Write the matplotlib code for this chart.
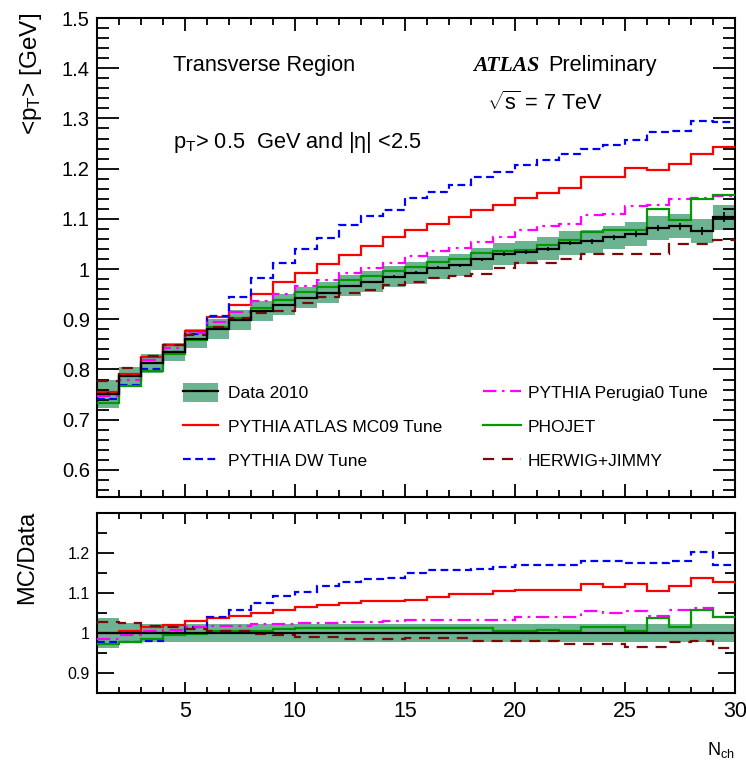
import numpy as np
import matplotlib
matplotlib.use('Agg')
import matplotlib.pyplot as plt
from matplotlib.patches import Patch
from matplotlib.lines import Line2D
from matplotlib.ticker import MultipleLocator, FixedLocator, FuncFormatter

plt.rcParams['font.family'] = ['Liberation Sans', 'DejaVu Sans']
plt.rcParams['mathtext.fontset'] = 'custom'
plt.rcParams['mathtext.rm'] = 'Liberation Sans'
plt.rcParams['mathtext.it'] = 'Liberation Sans:italic'
plt.rcParams['mathtext.default'] = 'regular'

# bin edges in N_ch
nch_edges = list(range(1, 31))

# <pT> per bin, top panel
data_2010 = [0.752, 0.787, 0.812, 0.835, 0.861, 0.881, 0.899, 0.917, 0.929, 0.943,
             0.953, 0.967, 0.975, 0.985, 0.993, 1.003, 1.008, 1.020, 1.030, 1.033,
             1.040, 1.052, 1.055, 1.063, 1.070, 1.081, 1.085, 1.076, 1.103]
data_stat = [0.003, 0.002, 0.002, 0.002, 0.002, 0.002, 0.002, 0.002, 0.002, 0.002,
             0.002, 0.002, 0.002, 0.003, 0.003, 0.003, 0.003, 0.003, 0.004, 0.004,
             0.004, 0.004, 0.005, 0.005, 0.006, 0.006, 0.007, 0.008, 0.010]
data_syst_rel = [0.037, 0.024, 0.023, 0.022, 0.022, 0.022, 0.022, 0.022, 0.022, 0.022,
                 0.022, 0.022, 0.022, 0.022, 0.022, 0.022, 0.022, 0.022, 0.022, 0.022,
                 0.022, 0.022, 0.022, 0.022, 0.022, 0.022, 0.022, 0.022, 0.023]

mc09 = [0.755, 0.790, 0.825, 0.848, 0.877, 0.905, 0.928, 0.951, 0.975, 0.993,
        1.011, 1.027, 1.045, 1.063, 1.077, 1.090, 1.103, 1.117, 1.127, 1.141,
        1.151, 1.161, 1.183, 1.183, 1.201, 1.197, 1.210, 1.230, 1.243]
dw = [0.741, 0.770, 0.800, 0.835, 0.870, 0.907, 0.945, 0.983, 1.012, 1.040,
      1.061, 1.087, 1.105, 1.117, 1.141, 1.153, 1.168, 1.183, 1.193, 1.207,
      1.217, 1.230, 1.240, 1.248, 1.257, 1.273, 1.275, 1.295, 1.292]
perugia0 = [0.747, 0.780, 0.818, 0.842, 0.872, 0.895, 0.915, 0.937, 0.950, 0.966,
            0.978, 0.993, 1.002, 1.013, 1.025, 1.036, 1.041, 1.053, 1.063, 1.077,
            1.085, 1.090, 1.107, 1.110, 1.125, 1.128, 1.140, 1.141, 1.145]
phojet = [0.733, 0.767, 0.797, 0.830, 0.858, 0.884, 0.902, 0.922, 0.938, 0.955,
          0.965, 0.978, 0.987, 0.997, 1.005, 1.015, 1.020, 1.032, 1.035, 1.038,
          1.048, 1.057, 1.073, 1.077, 1.077, 1.120, 1.097, 1.139, 1.147]
herwig = [0.778, 0.803, 0.826, 0.848, 0.868, 0.885, 0.902, 0.913, 0.917, 0.933,
          0.944, 0.952, 0.958, 0.968, 0.975, 0.982, 0.986, 0.990, 1.003, 1.013,
          1.013, 1.021, 1.030, 1.030, 1.030, 1.030, 1.050, 1.050, 1.057]

# MC/Data, bottom panel
r_mc09 = [1.000, 1.005, 1.016, 1.020, 1.030, 1.037, 1.043, 1.050, 1.057, 1.064,
          1.069, 1.075, 1.079, 1.080, 1.083, 1.091, 1.097, 1.097, 1.104, 1.108,
          1.108, 1.108, 1.123, 1.116, 1.123, 1.105, 1.117, 1.138, 1.128]
r_dw = [0.977, 0.978, 0.979, 1.000, 1.016, 1.040, 1.058, 1.074, 1.093, 1.102,
        1.118, 1.128, 1.135, 1.138, 1.150, 1.158, 1.158, 1.160, 1.165, 1.170,
        1.170, 1.170, 1.180, 1.180, 1.175, 1.174, 1.180, 1.203, 1.170]
r_perugia0 = [0.985, 0.995, 1.006, 1.008, 1.014, 1.017, 1.018, 1.022, 1.023, 1.024,
              1.026, 1.027, 1.028, 1.029, 1.032, 1.033, 1.033, 1.033, 1.033, 1.039,
              1.039, 1.039, 1.055, 1.050, 1.056, 1.043, 1.058, 1.063, 1.039]
r_phojet = [0.972, 0.978, 0.984, 0.995, 0.998, 1.004, 1.004, 1.006, 1.010, 1.012,
            1.012, 1.012, 1.012, 1.012, 1.012, 1.012, 1.012, 1.012, 1.006, 1.004,
            1.008, 1.004, 1.016, 1.016, 1.006, 1.037, 1.014, 1.058, 1.040]
r_herwig = [1.028, 1.024, 1.018, 1.016, 1.010, 1.006, 1.004, 0.997, 0.996, 0.991,
            0.990, 0.986, 0.985, 0.985, 0.987, 0.987, 0.987, 0.979, 0.979, 0.979,
            0.979, 0.973, 0.973, 0.973, 0.965, 0.965, 0.977, 0.979, 0.963]

labels = ['Data 2010', 'PYTHIA ATLAS MC09 Tune', 'PYTHIA DW Tune',
          'PYTHIA Perugia0 Tune', 'PHOJET', 'HERWIG+JIMMY']

band_col = '#6cb391'
styles = {
    'mc09': dict(color='#ff0000', linestyle='-', lw=1.6),
    'dw': dict(color='#0000ff', linestyle=(0, (3.5, 2)), lw=1.6),
    'perugia0': dict(color='#ff00ff', linestyle=(0, (6, 2.5, 1.2, 2.5)), lw=1.6),
    'phojet': dict(color='#009900', linestyle='-', lw=1.6),
    'herwig': dict(color='#7a0a0a', linestyle=(0, (5, 3.5)), lw=1.6),
}


def style_axis(ax, ymajor_len, yminor_len, xmajor_len, xminor_len):
    ax.tick_params(which='both', direction='in', top=True, right=True, width=1.3, colors='k')
    ax.tick_params(axis='y', which='major', length=ymajor_len)
    ax.tick_params(axis='y', which='minor', length=yminor_len)
    ax.tick_params(axis='x', which='major', length=xmajor_len)
    ax.tick_params(axis='x', which='minor', length=xminor_len)
    for s in ax.spines.values():
        s.set_linewidth(1.5)
    ax.xaxis.set_major_locator(MultipleLocator(5))
    ax.xaxis.set_minor_locator(MultipleLocator(1))


fig = plt.figure(figsize=(7.46, 7.63), dpi=100)
W, H = 746.0, 763.0
ax1 = fig.add_axes([96.7 / W, 1 - 497 / H, 638.3 / W, 479 / H])
ax2 = fig.add_axes([96.7 / W, 1 - 693 / H, 638.3 / W, 180 / H])

edges = np.array(nch_edges)
centers = (edges[:-1] + edges[1:]) / 2
data = np.array(data_2010)
syst = data * np.array(data_syst_rel)

# top panel
ax1.stairs(data + syst, edges, baseline=data - syst, fill=True, color=band_col, lw=0, zorder=1)
ax1.stairs(mc09, edges, baseline=None, zorder=3, **styles['mc09'])
ax1.stairs(dw, edges, baseline=None, zorder=3, **styles['dw'])
ax1.stairs(perugia0, edges, baseline=None, zorder=3, **styles['perugia0'])
ax1.stairs(phojet, edges, baseline=None, zorder=3, **styles['phojet'])
ax1.stairs(herwig, edges, baseline=None, zorder=3, **styles['herwig'])
ax1.stairs(data, edges, baseline=None, color='k', lw=1.6, zorder=4)
ax1.errorbar(centers, data, yerr=data_stat, fmt='none', ecolor='k', elinewidth=1.2, zorder=4)

ax1.set_xlim(1, 30)
ax1.set_ylim(0.546, 1.5)
style_axis(ax1, 16, 8.5, 9.5, 5)
ax1.yaxis.set_major_locator(MultipleLocator(0.1))
ax1.yaxis.set_minor_locator(MultipleLocator(0.02))
ax1.yaxis.set_major_formatter(FuncFormatter(lambda v, p: '%g' % round(v, 2)))
ax1.tick_params(axis='y', labelsize=14.5, pad=5)
ax1.tick_params(axis='x', labelbottom=False)
ax1.set_ylabel('<p$_{T}$> [GeV]', fontsize=17.5, loc='top')
ax1.yaxis.set_label_coords(-0.083, 1.01)

# legend
band_h = Patch(facecolor=band_col, edgecolor='none')
data_h = Line2D([], [], color='k', lw=1.6)
h = [(band_h, data_h)]
for key in ['mc09', 'dw', 'perugia0', 'phojet', 'herwig']:
    h.append(Line2D([], [], **styles[key]))
leg1 = ax1.legend(h[:3], labels[:3], loc='upper left', bbox_to_anchor=(0.135, 0.238),
                  frameon=False, fontsize=12.5, handlelength=2.0, handleheight=1.3,
                  handletextpad=0.6, labelspacing=0.87, borderpad=0, borderaxespad=0)
ax1.add_artist(leg1)
ax1.legend(h[3:], labels[3:], loc='upper left', bbox_to_anchor=(0.605, 0.238),
           frameon=False, fontsize=12.5, handlelength=2.2, handleheight=1.3,
           handletextpad=0.4, labelspacing=0.87, borderpad=0, borderaxespad=0)

# bottom panel
ones = np.ones(len(data))
rel = np.array(data_syst_rel)
ax2.stairs(ones + rel, edges, baseline=ones - rel, fill=True, color=band_col, lw=0, zorder=1)
ax2.stairs(r_mc09, edges, baseline=None, zorder=3, **styles['mc09'])
ax2.stairs(r_dw, edges, baseline=None, zorder=3, **styles['dw'])
ax2.stairs(r_perugia0, edges, baseline=None, zorder=3, **styles['perugia0'])
ax2.stairs(r_phojet, edges, baseline=None, zorder=3, **styles['phojet'])
ax2.stairs(r_herwig, edges, baseline=None, zorder=3, **styles['herwig'])
ax2.stairs(ones, edges, baseline=None, color='k', lw=1.6, zorder=4)

ax2.set_xlim(1, 30)
ax2.set_ylim(0.85, 1.3)
style_axis(ax2, 12.5, 7, 8, 4.5)
ax2.yaxis.set_major_locator(FixedLocator([0.9, 1.0, 1.1, 1.2]))
ax2.yaxis.set_minor_locator(MultipleLocator(0.05))
ax2.yaxis.set_major_formatter(FuncFormatter(lambda v, p: '%g' % round(v, 2)))
ax2.tick_params(axis='y', labelsize=11.5, pad=5)
ax2.tick_params(axis='x', labelsize=15.5, pad=6)
ax2.set_ylabel('MC/Data', fontsize=17, loc='top')
ax2.yaxis.set_label_coords(-0.092, 1.01)

# annotations
fig.text(173 / W, 1 - 70.7 / H, 'Transverse Region', fontsize=15.7, va='baseline')
fig.text(473 / W, 1 - 70.7 / H, 'ATLAS', fontsize=15.7, va='baseline',
         family='Liberation Serif', weight='bold', style='italic')
fig.text(548 / W, 1 - 70.7 / H, 'Preliminary', fontsize=15.7, va='baseline')
fig.text(487 / W, 1 - 110 / H, r'$\sqrt{s}$ = 7 TeV', fontsize=15.7, va='baseline')
fig.text(173 / W, 1 - 148 / H, 'p$_{T}$> 0.5  GeV and |η| <2.5', fontsize=15.7, va='baseline')
fig.text(707 / W, 1 - 755 / H, 'N$_{ch}$', fontsize=13, va='baseline')

fig.savefig('out.png', dpi=100)
